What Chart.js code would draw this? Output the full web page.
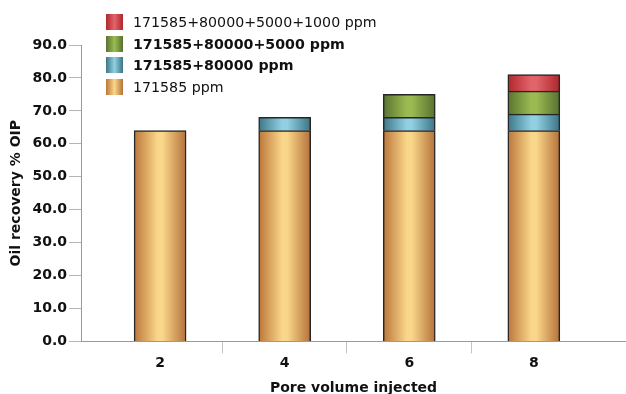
<!DOCTYPE html>
<html>
<head>
<meta charset="utf-8">
<script src="https://cdn.jsdelivr.net/npm/chart.js@4/dist/chart.umd.min.js"></script>
<style>
  html, body { margin: 0; padding: 0; background: #fff; }
  #wrap { position: relative; width: 626px; height: 394px; }
  #legend { position: absolute; left: 106px; top: 11px; font-family: "DejaVu Sans", Verdana, sans-serif; font-size: 14.2px; color: #111; }
  .row { position: relative; height: 21.7px; display: flex; align-items: center; }
  .sw { width: 17px; height: 16px; margin-right: 10px; }
</style>
</head>
<body>
<div id="wrap">
  <canvas id="c" width="626" height="394"></canvas>
  <div id="legend"></div>
</div>
<script>
// Pore volumes injected (x) and oil recovery increments (% OIP) per stage
const poreVolumes = [2, 4, 6, 8];
const base171585 = [64, 64, 64, 64];
const plus80000 = [null, 4, 4, 5];
const plus5000 = [null, null, 7, 7];
const plus1000 = [null, null, null, 5];

const seriesNames = [
  '171585 ppm',
  '171585+80000 ppm',
  '171585+80000+5000 ppm',
  '171585+80000+5000+1000 ppm'
];
const seriesBold = [false, true, true, false];

// edge / highlight / edge colours for the cylinder-like shading
const palettes = [
  ['#bb763a', '#f9d689', '#b4713a'],
  ['#3c7788', '#90d0e2', '#3a7485'],
  ['#587430', '#9cba52', '#56712f'],
  ['#b1272c', '#e2646b', '#ad262b']
];

const BAR_W = 52;

function shaded(idx) {
  return function (ctx) {
    const p = palettes[idx];
    if (ctx.type !== 'data' || !ctx.raw) return p[1];
    const chart = ctx.chart;
    const xs = chart.scales.x;
    if (!xs) return p[1];
    const cx = xs.getPixelForValue(ctx.raw.x);
    if (!isFinite(cx)) return p[1];
    const g = chart.ctx.createLinearGradient(cx - BAR_W / 2, 0, cx + BAR_W / 2, 0);
    g.addColorStop(0, p[0]);
    g.addColorStop(0.45, p[1]);
    g.addColorStop(0.55, p[1]);
    g.addColorStop(1, p[2]);
    return g;
  };
}

const seriesValues = [base171585, plus80000, plus5000, plus1000];

const datasets = seriesValues.map((vals, i) => ({
  label: seriesNames[i],
  data: poreVolumes.map((x, j) => ({ x: x, y: vals[j] })),
  backgroundColor: shaded(i),
  borderColor: '#262626',
  borderWidth: 1.5,
  borderSkipped: 'start',
  barThickness: BAR_W
}));

const font = { family: '"DejaVu Sans", Verdana, sans-serif', size: 14, weight: 'bold' };

new Chart(document.getElementById('c'), {
  type: 'bar',
  data: { datasets: datasets },
  options: {
    responsive: false,
    animation: false,
    layout: { padding: { top: 45, right: 0, bottom: -3, left: 0 } },
    plugins: { legend: { display: false }, tooltip: { enabled: false } },
    scales: {
      x: {
        type: 'linear',
        stacked: true,
        offset: false,
        min: 0.73,
        max: 9.48,
        afterBuildTicks: (s) => { s.ticks = [2, 3, 4, 5, 6, 7, 8].map(v => ({ value: v })); },
        ticks: {
          color: '#111',
          font: font,
          padding: 2,
          maxRotation: 0,
          autoSkip: false,
          callback: (v) => (poreVolumes.includes(v) ? String(v) : '')
        },
        grid: {
          offset: false,
          drawOnChartArea: false,
          tickLength: 12,
          color: (c) => (c.tick && poreVolumes.includes(c.tick.value) ? 'rgba(0,0,0,0)' : '#c4c4c4')
        },
        border: { display: true, color: '#9a9a9a', width: 1 },
        title: { display: true, text: 'Pore volume injected', color: '#111', font: font, padding: { top: 6, bottom: 0 } }
      },
      y: {
        stacked: true,
        min: 0,
        max: 90,
        afterFit: (s) => { s.width = 81; },
        ticks: {
          stepSize: 10,
          color: '#111',
          font: font,
          padding: 2,
          callback: (v) => Number(v).toFixed(1)
        },
        grid: { drawOnChartArea: false, tickLength: 12, color: '#b4b4b4' },
        border: { display: true, color: '#9a9a9a', width: 1 },
        title: { display: true, text: 'Oil recovery % OIP', color: '#111', font: font, padding: { top: 8, bottom: 0 } }
      }
    }
  }
});

// legend, topmost series first
const legend = document.getElementById('legend');
for (let i = seriesNames.length - 1; i >= 0; i--) {
  const p = palettes[i];
  const row = document.createElement('div');
  row.className = 'row';
  const sw = document.createElement('div');
  sw.className = 'sw';
  sw.style.background = 'linear-gradient(to right, ' + p[0] + ', ' + p[1] + ' 50%, ' + p[2] + ')';
  const tx = document.createElement('span');
  tx.textContent = seriesNames[i];
  tx.style.fontWeight = seriesBold[i] ? 'bold' : 'normal';
  row.appendChild(sw);
  row.appendChild(tx);
  legend.appendChild(row);
}
</script>
</body>
</html>
